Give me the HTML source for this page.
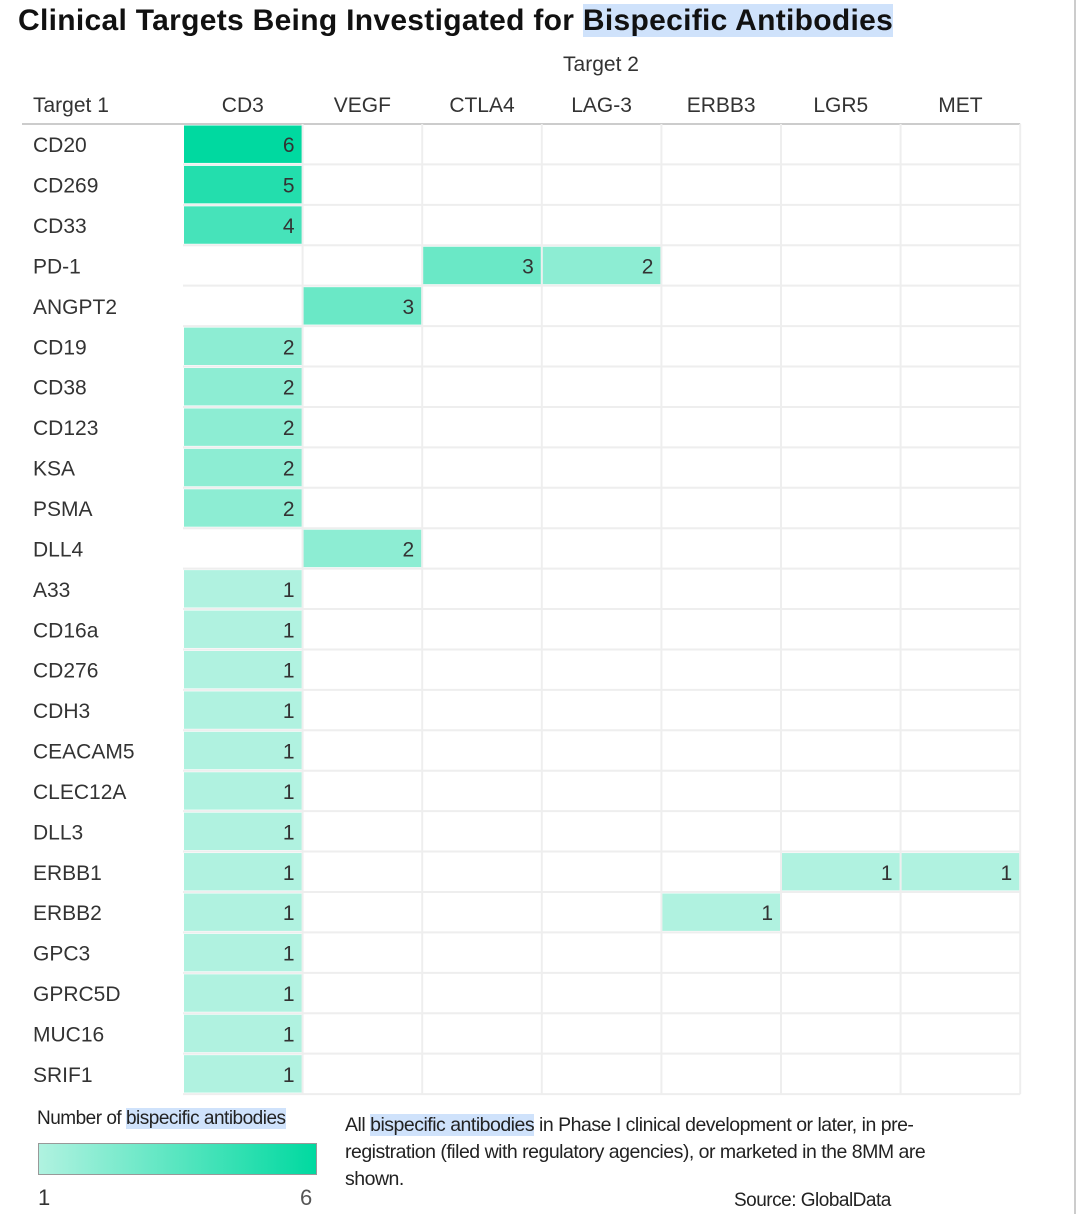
<!DOCTYPE html>
<html><head><meta charset="utf-8">
<style>
body{margin:0;background:#fff;width:1080px;height:1214px;overflow:hidden;font-family:"Liberation Sans",sans-serif;color:#333}
.hl{background:#cfe2fb}
</style></head><body>
<div style="position:absolute;left:1074px;top:0;width:2px;height:1214px;background:#ccc"></div>
<div style="position:absolute;left:18px;top:4px;font-size:30px;font-weight:bold;color:#111;white-space:nowrap;letter-spacing:0.3px">Clinical Targets Being Investigated for <span class="hl">Bispecific Antibodies</span></div>
<svg id="chart" width="1080" height="1214" style="position:absolute;left:0;top:0"></svg>
<div style="position:absolute;left:37px;top:1108px;font-size:19px;color:#222;letter-spacing:-0.5px">Number of <span class="hl">bispecific antibodies</span></div>
<div style="position:absolute;left:38px;top:1143px;width:277px;height:30px;border:1px solid #999;background:linear-gradient(to right,#b0f2e0,#00d9a0)"></div>
<div style="position:absolute;left:38px;top:1185px;font-size:22px;color:#333">1</div>
<div style="position:absolute;left:300px;top:1185px;font-size:22px;color:#555">6</div>
<div style="position:absolute;left:345px;top:1112px;width:625px;font-size:19.5px;line-height:27px;color:#222;letter-spacing:-0.5px">All <span class="hl">bispecific antibodies</span> in Phase I clinical development or later, in pre-registration (filed with regulatory agencies), or marketed in the 8MM are shown.</div>
<div style="position:absolute;left:734px;top:1190px;font-size:19px;color:#222;letter-spacing:-0.5px">Source: GlobalData</div>
<script>
const rowsT1=["CD20","CD269","CD33","PD-1","ANGPT2","CD19","CD38","CD123","KSA","PSMA","DLL4","A33","CD16a","CD276","CDH3","CEACAM5","CLEC12A","DLL3","ERBB1","ERBB2","GPC3","GPRC5D","MUC16","SRIF1"];
const colsT2=["CD3","VEGF","CTLA4","LAG-3","ERBB3","LGR5","MET"];
// [row, col, value]
const cellValues=[["CD20","CD3",6],["CD269","CD3",5],["CD33","CD3",4],["PD-1","CTLA4",3],["PD-1","LAG-3",2],["ANGPT2","VEGF",3],["CD19","CD3",2],["CD38","CD3",2],["CD123","CD3",2],["KSA","CD3",2],["PSMA","CD3",2],["DLL4","VEGF",2],["A33","CD3",1],["CD16a","CD3",1],["CD276","CD3",1],["CDH3","CD3",1],["CEACAM5","CD3",1],["CLEC12A","CD3",1],["DLL3","CD3",1],["ERBB1","CD3",1],["ERBB1","LGR5",1],["ERBB1","MET",1],["ERBB2","CD3",1],["ERBB2","ERBB3",1],["GPC3","CD3",1],["GPRC5D","CD3",1],["MUC16","CD3",1],["SRIF1","CD3",1]];
const svg=document.getElementById('chart');const NS="http://www.w3.org/2000/svg";
const x0=183,cw=119.6,y0=124,rh=40.42,xL=22;
const xs=c=>x0+colsT2.indexOf(c)*cw, ys=r=>y0+rowsT1.indexOf(r)*rh;
function mk(t,a){const e=document.createElementNS(NS,t);for(const k in a)e.setAttribute(k,a[k]);svg.appendChild(e);return e;}
function color(v){const t=(v-1)/5;const a=[176,242,224],b=[0,217,160];return `rgb(${a.map((c,i)=>Math.round(c+(b[i]-c)*t)).join(',')})`;}
for(let i=0;i<=rowsT1.length;i++){const l=mk('line',{x1:i==0?xL:x0,x2:x0+colsT2.length*cw,y1:y0+i*rh,y2:y0+i*rh,stroke:i==0?'#ccc':'#eee','stroke-width':2});}
for(let j=1;j<=colsT2.length;j++){const l=mk('line',{x1:x0+j*cw,x2:x0+j*cw,y1:y0,y2:y0+rowsT1.length*rh,stroke:'#eee','stroke-width':2});}
const tt=mk('text',{x:601,y:71,'text-anchor':'middle','font-size':21,fill:'#333'});tt.textContent="Target 2";

const t1=mk('text',{x:33,y:112,'font-size':21,fill:'#333'});t1.textContent="Target 1";

colsT2.forEach(c=>{const t=mk('text',{x:xs(c)+cw/2,y:112,'text-anchor':'middle','font-size':21,fill:'#333'});t.textContent=c;
});
rowsT1.forEach(r=>{const t=mk('text',{x:33,y:ys(r)+rh/2+8,'font-size':21,fill:'#333'});t.textContent=r;
});
cellValues.forEach(([r,c,v])=>{const rc=mk('rect',{x:xs(c)+1,y:ys(r)+1.5,width:cw-2,height:rh-3,fill:color(v)});

const t=mk('text',{x:xs(c)+cw-8,y:ys(r)+rh/2+8,'text-anchor':'end','font-size':21,fill:'#333'});t.textContent=v;
});
</script>
</body></html>
